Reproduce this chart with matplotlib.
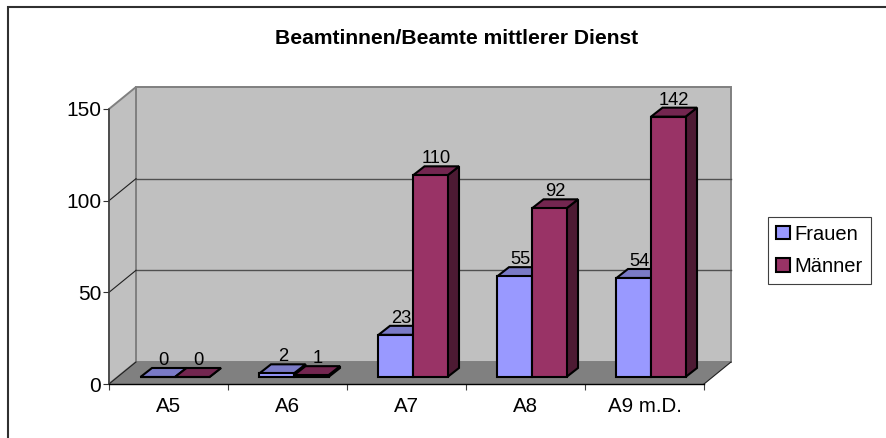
import matplotlib
matplotlib.use("Agg")
import matplotlib.pyplot as plt
from matplotlib.lines import Line2D
from matplotlib.patches import Polygon, Rectangle, Patch
from matplotlib.transforms import Affine2D

categories = ["A5", "A6", "A7", "A8", "A9 m.D."]
frauen = [0, 2, 23, 55, 54]
maenner = [0, 1, 110, 92, 142]
yticks = [0, 50, 100, 150]
title = "Beamtinnen/Beamte mittlerer Dienst"
series_names = ["Frauen", "Männer"]

W, H = 887, 438
plt.rcParams["font.family"] = ["Liberation Sans", "DejaVu Sans"]
fig = plt.figure(figsize=(W / 100, H / 100), dpi=100, facecolor="white")

# front plane of the chart box, in pixels
L, R, TOP, BOT = 109, 704, 109, 384
ax = fig.add_axes([L / W, 1 - BOT / H, (R - L) / W, (BOT - TOP) / H])
ax.set_xlim(-0.5, 4.5)
ax.set_ylim(0, 150)
ax.patch.set_visible(False)
for s in ("top", "right"):
    ax.spines[s].set_visible(False)
ax.spines["left"].set_color("#404040")
ax.spines["left"].set_linewidth(1.1)
ax.spines["left"].set_zorder(2.5)
ax.spines["bottom"].set_color("black")
ax.spines["bottom"].set_linewidth(1.0)
ax.spines["bottom"].set_zorder(2.5)
ax.set_xticks([i - 0.5 for i in range(6)])
ax.set_xticklabels([])
ax.set_yticks(yticks)
ax.set_yticklabels([str(v) for v in yticks], fontsize=15)
ax.tick_params(axis="y", length=4, width=0.8, pad=1.5, color="#303030")
ax.tick_params(axis="x", length=4, width=0.8, color="#404040")
for i, c in enumerate(categories):
    ax.annotate(c, (i, 0), xycoords="data", xytext=(0, -23), textcoords="offset pixels",
                ha="center", va="center", fontsize=14.8)

DX, DY = 27, 22  # depth of the box in pixels


def tr(dx, dy):
    return ax.transData + Affine2D().translate(dx, dy)


x0, x1 = -0.5, 4.5
wall = "#C0C0C0"
floor = "#808080"
edge = "#808080"
P = ax.transData
# back wall
ax.add_patch(Rectangle((x0, 0), x1 - x0, 150, transform=tr(DX, DY), fc=wall, ec=edge, lw=1.4, zorder=1, clip_on=False))
# side wall
side = Polygon(
    [P.transform((x0, 0)), P.transform((x0, 150)),
     P.transform((x0, 150)) + (DX, DY), P.transform((x0, 0)) + (DX, DY)],
    closed=True, transform=None, fc=wall, ec=edge, lw=1.4, zorder=1, clip_on=False)
ax.add_artist(side)
# floor
fl = Polygon(
    [P.transform((x0, 0)), P.transform((x1, 0)),
     P.transform((x1, 0)) + (DX, DY), P.transform((x0, 0)) + (DX, DY)],
    closed=True, transform=None, fc=floor, ec="none", zorder=1.5, clip_on=False)
ax.add_artist(fl)
# gridlines on the back and side walls, floor diagonals
for v in yticks[1:3]:
    ax.plot([x0, x1], [v, v], transform=tr(DX, DY), color="#505050", lw=1.0, zorder=2, clip_on=False)
for v in yticks[:-1]:
    a = P.transform((x0, v))
    ax.add_artist(Line2D([a[0], a[0] + DX], [a[1], a[1] + DY], transform=None, color="#202020", lw=0.8, zorder=2,
                         clip_on=False))
b = P.transform((x1, 0))
ax.add_artist(Line2D([b[0], b[0] + DX], [b[1], b[1] + DY], transform=None, color="#202020", lw=0.8, zorder=2,
                     clip_on=False))

BAR_W = 0.29
BASE_DX, BASE_DY = 6.5, 7
BAR_DX, BAR_DY = 11.5, 9
colors = [("#9999FF", "#7A7AC6", "#4D4D80"), ("#993366", "#732650", "#4D1A33")]


def bar3d(x, v, cols, z):
    t = ax.transData
    l = t.transform((x, v))[0] + BASE_DX
    r = t.transform((x + BAR_W, v))[0] + BASE_DX
    b = t.transform((x, 0))[1] + BASE_DY
    top = t.transform((x, v))[1] + BASE_DY
    kw = dict(closed=True, transform=None, ec="black", lw=1.5, joinstyle="miter", clip_on=False, zorder=z)
    ax.add_artist(Polygon([(r, b), (r + BAR_DX, b + BAR_DY), (r + BAR_DX, top + BAR_DY), (r, top)], fc=cols[2], **kw))
    ax.add_artist(Polygon([(l, top), (r, top), (r + BAR_DX, top + BAR_DY), (l + BAR_DX, top + BAR_DY)], fc=cols[1], **kw))
    ax.add_artist(Polygon([(l, b), (r, b), (r, top), (l, top)], fc=cols[0], **kw))
    ax.text((l + r) / 2 + 6, top + BAR_DY - 1, str(v), transform=None, ha="center", va="bottom",
            fontsize=13.2, color="black", zorder=z + 0.1, clip_on=False, linespacing=1)


for i, (f, m) in enumerate(zip(frauen, maenner)):
    bar3d(i - BAR_W, f, colors[0], 3 + i)
    bar3d(i, m, colors[1], 3.3 + i)

fig.text(456.5 / W, 1 - 38 / H, title, ha="center", va="center", fontsize=15.2, fontweight="bold")

handles = [Patch(fc=colors[0][0], ec="black", lw=1.5), Patch(fc=colors[1][0], ec="black", lw=1.5)]
leg = fig.legend(handles, series_names, loc="upper left", bbox_to_anchor=(768 / W, 1 - 217 / H),
                 bbox_transform=fig.transFigure, fontsize=14.5, fancybox=False, edgecolor="#404040",
                 framealpha=1, handlelength=0.7, handleheight=0.65, handletextpad=0.25, labelspacing=0.66,
                 borderpad=0.38, borderaxespad=0)
leg.get_frame().set_linewidth(0.8)

# chart frame: only the top and left edges fall inside the picture
fig.add_artist(Line2D([8.5 / W, 8.5 / W, 1], [0, 1 - 7 / H, 1 - 7 / H], transform=fig.transFigure,
                      color="#303030", lw=1.5, solid_joinstyle="miter"))
fig.savefig("out.png", dpi=100, facecolor="white")
